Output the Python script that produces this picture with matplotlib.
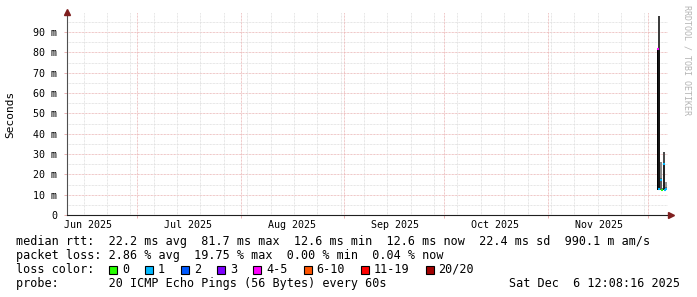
import matplotlib
matplotlib.use("Agg")
import matplotlib.pyplot as plt
import matplotlib.dates as mdates
import numpy as np
from datetime import datetime, timedelta

# ---------------- data ----------------
sample_times = ["2025-12-03 18:00", "2025-12-04 01:30", "2025-12-04 16:00",
                "2025-12-04 23:30", "2025-12-05 13:30", "2025-12-05 21:00",
                "2025-12-06 04:00"]
smoke_min   = [0.0124, 0.0124, 0.0124, 0.0124, 0.0124, 0.0124, 0.0124]
smoke_max   = [0.0817, 0.0980, 0.0260, 0.0135, 0.0310, 0.0135, 0.0160]
dense_hi    = [0.0817, 0.0810, 0.0180, 0.0130, 0.0250, 0.0130, 0.0140]
smoke_dens  = [1.0, 0.85, 0.35, 0.5, 0.75, 0.5, 0.25]   # relative smoke density
median_rtt  = [0.0817, 0.0126, 0.0172, 0.0125, 0.0250, 0.0125, 0.0126]
loss_class  = [4, 1, 1, 0, 1, 1, 1]                    # index into loss legend

loss_labels = ["0", "1", "2", "3", "4-5", "6-10", "11-19", "20/20"]
loss_colors = ["#26ff00", "#00b8ff", "#0059ff", "#7e00ff", "#ff00ff",
               "#ff5500", "#ff0000", "#a10000"]

y_ticks = [0, 0.01, 0.02, 0.03, 0.04, 0.05, 0.06, 0.07, 0.08, 0.09]
y_tick_labels = ["0", "10 m", "20 m", "30 m", "40 m", "50 m", "60 m",
                 "70 m", "80 m", "90 m"]
month_labels = ["Jun 2025", "Jul 2025", "Aug 2025", "Sep 2025", "Oct 2025", "Nov 2025"]

stats_rtt  = "median rtt:  22.2 ms avg  81.7 ms max  12.6 ms min  12.6 ms now  22.4 ms sd  990.1 m am/s"
stats_loss = "packet loss: 2.86 % avg  19.75 % max  0.00 % min  0.04 % now"
probe_text = "probe:       20 ICMP Echo Pings (56 Bytes) every 60s"
stamp_text = "Sat Dec  6 12:08:16 2025"

# ---------------- figure ----------------
W, H = 697, 297
fig = plt.figure(figsize=(W / 100, H / 100), dpi=100, facecolor="white")
L, R, T, B = 67, 668, 12, 215
ax = fig.add_axes([L / W, 1 - B / H, (R - L) / W, (B - T) / H])
ax.set_facecolor("white")

mono = "DejaVu Sans Mono"
x0 = datetime(2025, 6, 10, 0, 0)
x1 = datetime(2025, 12, 7, 2, 0)
ax.set_xlim(mdates.date2num(x0), mdates.date2num(x1))
ax.set_ylim(0, 0.0999)

minor_c = "#dedede"
major_c = "#eab4b4"
dot = (0, (0.72, 0.72))

# horizontal grid
for v in np.arange(0.005, 0.1, 0.01):
    ax.axhline(v, color=minor_c, lw=0.72, ls=dot, zorder=1)
for v in y_ticks[1:]:
    ax.axhline(v, color=major_c, lw=0.72, ls=dot, zorder=1)

# vertical grid: weekly (Sundays) and monthly
d = datetime(2025, 6, 1)
while d < x1:
    if d > x0 and d.weekday() == 6:
        ax.axvline(mdates.date2num(d), color=minor_c, lw=0.72, ls=dot, zorder=1)
    d += timedelta(days=1)
month_starts = [datetime(2025, m, 1) for m in range(7, 13)]
for m in month_starts:
    ax.axvline(mdates.date2num(m), color=major_c, lw=0.72, ls=dot, zorder=1)

# ---------------- data drawing ----------------
t = mdates.date2num([datetime.strptime(s, "%Y-%m-%d %H:%M") for s in sample_times])
step = 0.5
smin = np.array(smoke_min); smax = np.array(smoke_max); dhi = np.array(dense_hi)
dens = np.array(smoke_dens)
outer_col = [plt.cm.gray(0.75 - 0.6 * dd) for dd in dens]
inner_col = [plt.cm.gray(0.55 - 0.55 * dd) for dd in dens]
ax.bar(t, smax - smin, bottom=smin, width=step, align="edge",
       color=outer_col, linewidth=0, zorder=3)
ax.bar(t, dhi - smin, bottom=smin, width=step, align="edge",
       color=inner_col, linewidth=0, zorder=4)
ax.hlines(median_rtt, t, t + step, colors=[loss_colors[i] for i in loss_class],
          lw=1.5, zorder=5)

# ---------------- axes ----------------
for s in ["top", "right"]:
    ax.spines[s].set_visible(False)
ax.spines["left"].set_color("#505050")
ax.spines["left"].set_linewidth(0.8)
ax.spines["bottom"].set_color("#1f1f1f")
ax.spines["bottom"].set_linewidth(0.8)
ax.spines["left"].set_zorder(6)
ax.spines["bottom"].set_zorder(6)

ax.set_yticks(y_ticks)
ax.set_yticklabels(y_tick_labels, fontfamily=mono, fontsize=7.2)
ax.tick_params(axis="y", length=2.5, color=major_c, pad=4.5, width=0.72)

mid_months = [mdates.date2num(datetime(2025, m, 1) + timedelta(days=15.3))
              for m in range(6, 12)]
ax.set_xticks(mid_months)
ax.set_xticklabels(month_labels, fontfamily=mono, fontsize=7.2)
ax.set_xticks([mdates.date2num(m) for m in month_starts], minor=True)
ax.tick_params(axis="x", which="major", length=0, pad=3.5)
ax.tick_params(axis="x", which="minor", length=2.5, color=major_c, width=0.72)

# arrows
ax.plot([0], [1.0], marker="^", color="#7f1f1f", markersize=4,
        transform=ax.transAxes, clip_on=False, zorder=7)
ax.plot([(671 - L) / (R - L)], [0], marker=">", color="#7f1f1f", markersize=4,
        transform=ax.transAxes, clip_on=False, zorder=7)
ax.plot([1.0, (671 - L) / (R - L)], [0, 0], color="#1f1f1f", lw=0.8,
        transform=ax.transAxes, clip_on=False, zorder=6)

# labels
fig.text(10 / W, 1 - 114 / H, "Seconds", rotation=90, ha="center", va="center",
         fontfamily=mono, fontsize=8)
fig.text(687 / W, 1 - 5 / H, "RRDTOOL / TOBI OETIKER", rotation=270,
         ha="center", va="top", fontfamily=mono, fontsize=6, color="#b4b4b4")

# legend text
fs = 8.5
def row(ypix):
    return 1 - ypix / H
fig.text(16 / W, row(241.5), stats_rtt, fontfamily=mono, fontsize=fs, va="center")
fig.text(16 / W, row(255.5), stats_loss, fontfamily=mono, fontsize=fs, va="center")
fig.text(16 / W, row(269.5), "loss color:", fontfamily=mono, fontsize=fs, va="center")
fig.text(16 / W, row(283.5), probe_text, fontfamily=mono, fontsize=fs, va="center")
fig.text(680 / W, row(283.5), stamp_text, fontfamily=mono, fontsize=fs,
         va="center", ha="right")

# loss colour boxes
charw = 7.1
xb = 109.0
for lab, col in zip(loss_labels, loss_colors):
    fig.patches.append(plt.Rectangle((xb / W, row(273.5)), 8 / W, 8 / H,
                                     transform=fig.transFigure, facecolor=col,
                                     edgecolor="black", linewidth=0.8))
    fig.text((xb + 13) / W, row(269.5), lab, fontfamily=mono, fontsize=fs, va="center")
    xb += 14 + charw * len(lab) + 15

fig.savefig("out.png", dpi=100, facecolor="white")
